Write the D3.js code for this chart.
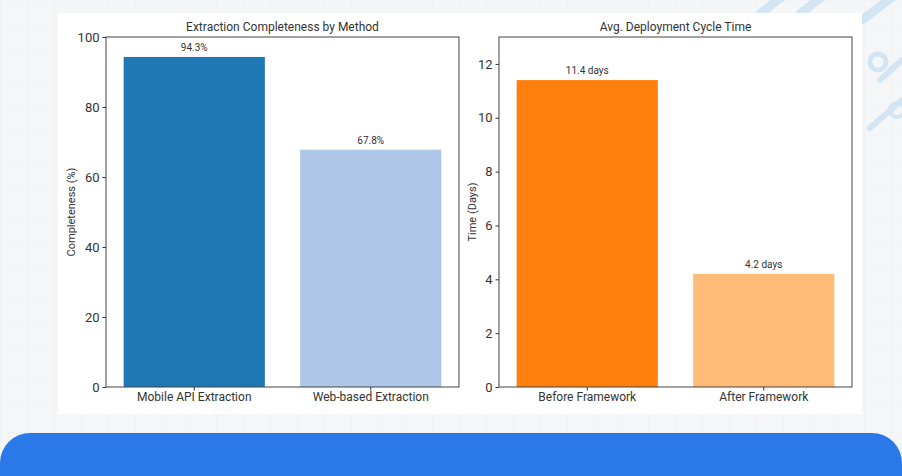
<!DOCTYPE html>
<html><head><meta charset="utf-8">
<script src="https://cdn.jsdelivr.net/npm/d3@7"></script>
<style>html,body{margin:0;padding:0;background:#f5f6f8;}svg{display:block;}</style>
</head><body>
<svg id="c" width="902" height="476"></svg>
<script>
const methods = ["Mobile API Extraction", "Web-based Extraction"];
const completeness = [94.3, 67.8];
const completenessLabels = ["94.3%", "67.8%"];
const completenessTicks = [0, 20, 40, 60, 80, 100];
const phases = ["Before Framework", "After Framework"];
const cycleDays = [11.4, 4.2];
const cycleLabels = ["11.4 days", "4.2 days"];
const cycleTicks = [0, 2, 4, 6, 8, 10, 12];

const svg = d3.select("#c");
const FONT = "Roboto, 'Noto Sans', sans-serif";
const TXT = "#333";

// background grid
const defs = svg.append("defs");
const pat = defs.append("pattern").attr("id","grid").attr("width",27).attr("height",27).attr("patternUnits","userSpaceOnUse");
pat.append("path").attr("d","M27 0 L0 0 0 27").attr("fill","none").attr("stroke","#eceef1").attr("stroke-width",1);
svg.append("rect").attr("width",902).attr("height",476).attr("fill","#f5f6f8");
svg.append("rect").attr("width",902).attr("height",476).attr("fill","url(#grid)");

// decorative strokes top-right
const deco = svg.append("g").attr("stroke","#d3e5f3").attr("fill","none").attr("stroke-linecap","round");
deco.append("path").attr("d","M760 14 L790 -10").attr("stroke-width",9);
deco.append("path").attr("d","M800 14 L830 -10").attr("stroke-width",9);
deco.append("path").attr("d","M862 20 L895 -5").attr("stroke-width",9);
deco.append("path").attr("d","M870 128 L902 100").attr("stroke-width",6);
deco.append("path").attr("d","M880 80 L902 60").attr("stroke-width",6);
deco.append("circle").attr("cx",878).attr("cy",62).attr("r",8).attr("stroke-width",5);
deco.append("circle").attr("cx",897).attr("cy",110).attr("r",7).attr("stroke-width",4);

// card
svg.append("rect").attr("x",58).attr("y",13).attr("width",804).attr("height",401).attr("fill","#ffffff");

// bottom blue
svg.append("rect").attr("x",0).attr("y",433).attr("width",902).attr("height",80).attr("rx",30).attr("fill","#2b78e9");

function panel(opts){
  const {x0,x1,y0,y1,cats,vals,labels,ticks,ymax,colors,title,ylab,ylabX} = opts;
  const g = svg.append("g");
  const x = d3.scaleBand().domain(cats).range([x0,x1]).paddingInner(0.2).paddingOuter(0.1);
  const y = d3.scaleLinear().domain([0,ymax]).range([y1,y0]);
  g.selectAll("rect.bar").data(vals).enter().append("rect")
    .attr("x",(d,i)=>x(cats[i])).attr("width",x.bandwidth())
    .attr("y",d=>y(d)).attr("height",d=>y1-y(d)).attr("fill",(d,i)=>colors[i]);
  g.selectAll("text.bl").data(vals).enter().append("text")
    .attr("x",(d,i)=>x(cats[i])+x.bandwidth()/2).attr("y",d=>y(d)-6)
    .attr("text-anchor","middle").attr("font-family",FONT).attr("font-size",10).attr("fill",TXT)
    .text((d,i)=>labels[i]);
  const ya = g.append("g").attr("transform",`translate(${x0},0)`)
    .call(d3.axisLeft(y).tickValues(ticks).tickSize(3.5).tickPadding(3).tickFormat(d3.format("d")));
  ya.select(".domain").remove();
  ya.selectAll("text").attr("font-family",FONT).attr("font-size",13).attr("fill",TXT);
  ya.selectAll("line").attr("stroke",TXT);
  const xa = g.append("g").attr("transform",`translate(0,${y1})`)
    .call(d3.axisBottom(x).tickSize(3.5).tickPadding(2));
  xa.select(".domain").remove();
  xa.selectAll("text").attr("font-family",FONT).attr("font-size",12).attr("fill",TXT);
  xa.selectAll("line").attr("stroke",TXT);
  g.append("rect").attr("x",x0).attr("y",y0).attr("width",x1-x0).attr("height",y1-y0)
    .attr("fill","none").attr("stroke","#444").attr("stroke-width",1);
  g.append("text").attr("x",(x0+x1)/2).attr("y",y0-6).attr("text-anchor","middle")
    .attr("font-family",FONT).attr("font-size",12).attr("fill",TXT).text(title);
  g.append("text").attr("transform",`translate(${ylabX},${(y0+y1)/2}) rotate(-90)`)
    .attr("text-anchor","middle").attr("font-family",FONT).attr("font-size",11).attr("fill",TXT).text(ylab);
}

panel({x0:106,x1:459,y0:37,y1:387,cats:methods,vals:completeness,labels:completenessLabels,
  ticks:completenessTicks,ymax:100,colors:["#1f77b4","#aec7e8"],
  title:"Extraction Completeness by Method",ylab:"Completeness (%)",ylabX:75});
panel({x0:499,x1:852,y0:37,y1:387,cats:phases,vals:cycleDays,labels:cycleLabels,
  ticks:cycleTicks,ymax:13.0,colors:["#ff7f0e","#ffbb78"],
  title:"Avg. Deployment Cycle Time",ylab:"Time (Days)",ylabX:476});
</script>
</body></html>
